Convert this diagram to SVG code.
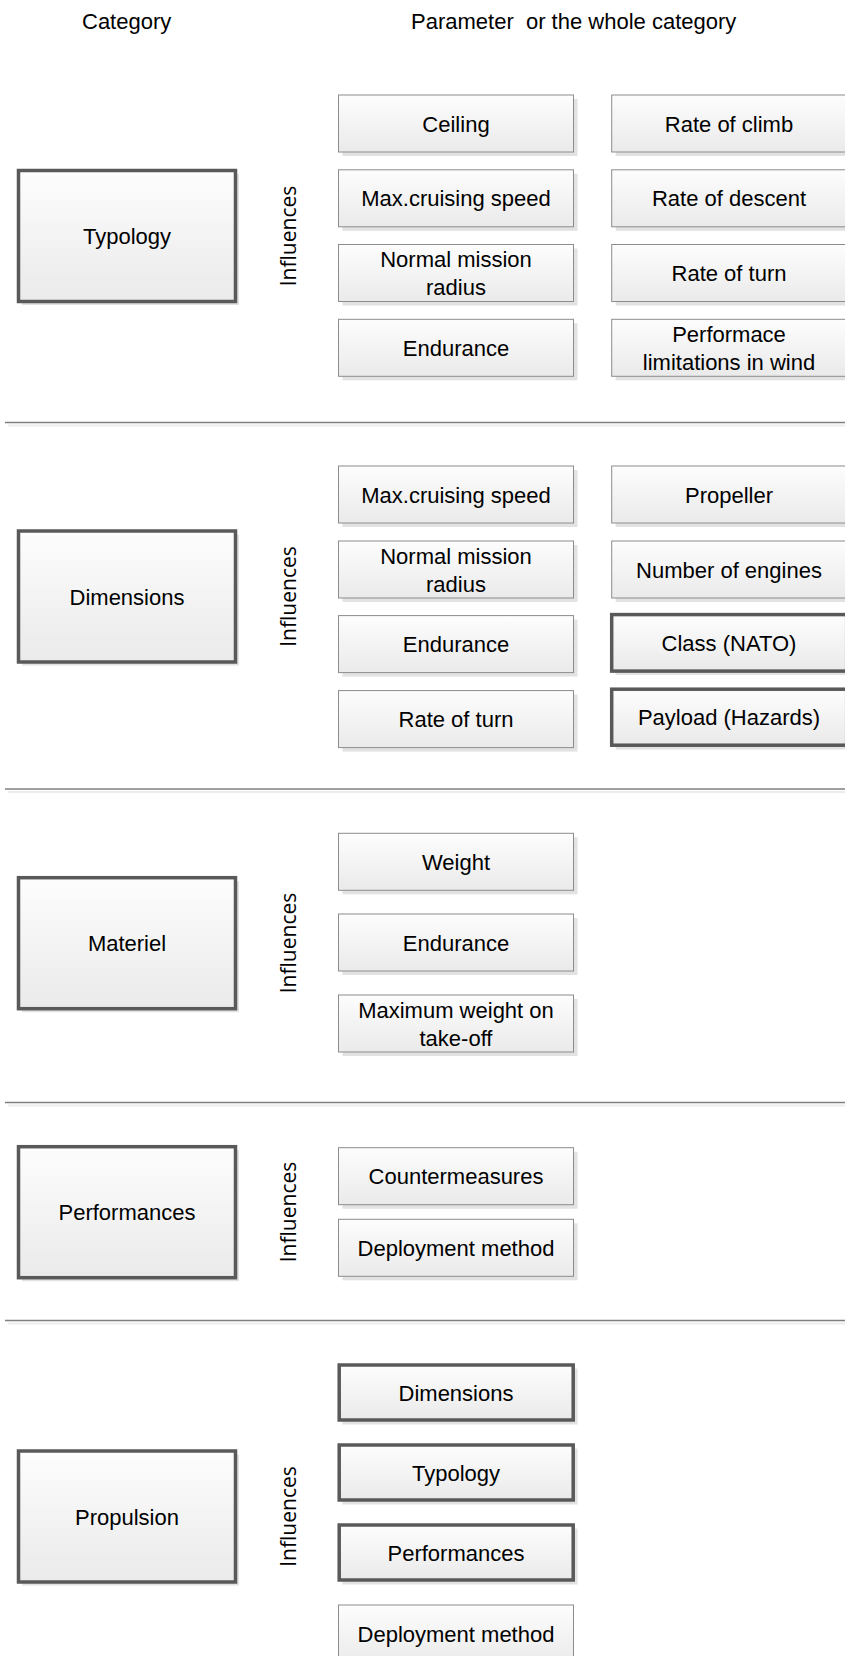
<svg xmlns="http://www.w3.org/2000/svg" width="845" height="1656" viewBox="0 0 845 1656">
<defs>
<linearGradient id="g" x1="0" y1="0" x2="0" y2="1">
<stop offset="0" stop-color="#fdfdfd"/>
<stop offset="1" stop-color="#eaeaea"/>
</linearGradient>
<style>
.box{fill:url(#g);stroke:#8c8c8c;stroke-width:1}
.thick{fill:url(#g);stroke:#595959;stroke-width:3.5}
.sh{fill:#e2e2e2}
.t{font-family:'Liberation Sans',Arial,sans-serif;font-size:22px;text-anchor:middle;fill:#000}
.h{font-family:'Liberation Sans',Arial,sans-serif;font-size:22px;fill:#000;white-space:pre}
.inf{font-family:'Open Sans','Liberation Sans',sans-serif;font-size:21px;text-anchor:middle;fill:#000}
.sep{stroke:#7f7f7f;stroke-width:1.5}
.seps{stroke:#ececec;stroke-width:2}
</style>
</defs>
<rect width="845" height="1656" fill="#fff"/>

<g id="headers">
<text class="h" x="82" y="29">Category</text>
<text class="h" x="411" y="29" xml:space="preserve">Parameter  or the whole category</text>
</g>

<g id="separators">
<line class="seps" x1="8" y1="425.5" x2="845" y2="425.5"/>
<line class="sep" x1="5" y1="422.5" x2="845" y2="422.5"/>
<line class="seps" x1="8" y1="792" x2="845" y2="792"/>
<line class="sep" x1="5" y1="789" x2="845" y2="789"/>
<line class="seps" x1="8" y1="1105.5" x2="845" y2="1105.5"/>
<line class="sep" x1="5" y1="1102.5" x2="845" y2="1102.5"/>
<line class="seps" x1="8" y1="1323.5" x2="845" y2="1323.5"/>
<line class="sep" x1="5" y1="1320.5" x2="845" y2="1320.5"/>
</g>

<g id="connectors">
<text class="inf" transform="translate(295.5,236) rotate(-90)">Influences</text>
<text class="inf" transform="translate(295.5,596.5) rotate(-90)">Influences</text>
<text class="inf" transform="translate(295.5,943) rotate(-90)">Influences</text>
<text class="inf" transform="translate(295.5,1212) rotate(-90)">Influences</text>
<text class="inf" transform="translate(295.5,1516.5) rotate(-90)">Influences</text>
</g>

<!-- Typology section -->
<g id="cat-typology">
<rect class="sh" x="22" y="174" width="217" height="131"/>
<rect class="thick" x="18.5" y="170.5" width="217" height="131"/>
<text class="t" x="127" y="244">Typology</text>
</g>
<g id="t-ceiling">
<rect class="sh" x="342.5" y="99" width="235" height="57"/>
<rect class="box" x="338.5" y="95" width="235" height="57"/>
<text class="t" x="456" y="131.5">Ceiling</text>
</g>
<g id="t-maxspeed">
<rect class="sh" x="342.5" y="173.8" width="235" height="57"/>
<rect class="box" x="338.5" y="169.8" width="235" height="57"/>
<text class="t" x="456" y="206.3">Max.cruising speed</text>
</g>
<g id="t-radius">
<rect class="sh" x="342.5" y="248.5" width="235" height="57"/>
<rect class="box" x="338.5" y="244.5" width="235" height="57"/>
<text class="t" x="456" y="267">Normal mission</text>
<text class="t" x="456" y="295">radius</text>
</g>
<g id="t-endurance">
<rect class="sh" x="342.5" y="323.3" width="235" height="57"/>
<rect class="box" x="338.5" y="319.3" width="235" height="57"/>
<text class="t" x="456" y="355.8">Endurance</text>
</g>
<g id="t-climb">
<rect class="sh" x="615.7" y="99" width="235" height="57"/>
<rect class="box" x="611.7" y="95" width="235" height="57"/>
<text class="t" x="729" y="131.5">Rate of climb</text>
</g>
<g id="t-descent">
<rect class="sh" x="615.7" y="173.8" width="235" height="57"/>
<rect class="box" x="611.7" y="169.8" width="235" height="57"/>
<text class="t" x="729" y="206.3">Rate of descent</text>
</g>
<g id="t-turn">
<rect class="sh" x="615.7" y="248.5" width="235" height="57"/>
<rect class="box" x="611.7" y="244.5" width="235" height="57"/>
<text class="t" x="729" y="281">Rate of turn</text>
</g>
<g id="t-wind">
<rect class="sh" x="615.7" y="323.3" width="235" height="57"/>
<rect class="box" x="611.7" y="319.3" width="235" height="57"/>
<text class="t" x="729" y="341.8">Performace</text>
<text class="t" x="729" y="369.8">limitations in wind</text>
</g>

<!-- Dimensions section -->
<g id="cat-dimensions">
<rect class="sh" x="22" y="534.5" width="217" height="131"/>
<rect class="thick" x="18.5" y="531" width="217" height="131"/>
<text class="t" x="127" y="604.5">Dimensions</text>
</g>
<g id="d-maxspeed">
<rect class="sh" x="342.5" y="470" width="235" height="57"/>
<rect class="box" x="338.5" y="466" width="235" height="57"/>
<text class="t" x="456" y="502.5">Max.cruising speed</text>
</g>
<g id="d-radius">
<rect class="sh" x="342.5" y="545" width="235" height="57"/>
<rect class="box" x="338.5" y="541" width="235" height="57"/>
<text class="t" x="456" y="563.5">Normal mission</text>
<text class="t" x="456" y="591.5">radius</text>
</g>
<g id="d-endurance">
<rect class="sh" x="342.5" y="619.6" width="235" height="57"/>
<rect class="box" x="338.5" y="615.6" width="235" height="57"/>
<text class="t" x="456" y="652.1">Endurance</text>
</g>
<g id="d-turn">
<rect class="sh" x="342.5" y="694.6" width="235" height="57"/>
<rect class="box" x="338.5" y="690.6" width="235" height="57"/>
<text class="t" x="456" y="727.1">Rate of turn</text>
</g>
<g id="d-propeller">
<rect class="sh" x="615.7" y="470" width="235" height="57"/>
<rect class="box" x="611.7" y="466" width="235" height="57"/>
<text class="t" x="729" y="502.5">Propeller</text>
</g>
<g id="d-engines">
<rect class="sh" x="615.7" y="545" width="235" height="57"/>
<rect class="box" x="611.7" y="541" width="235" height="57"/>
<text class="t" x="729" y="577.5">Number of engines</text>
</g>
<g id="d-class">
<rect class="sh" x="615.7" y="619" width="235" height="56"/>
<rect class="thick" x="611.7" y="614.6" width="235" height="56.5"/>
<text class="t" x="729" y="651">Class (NATO)</text>
</g>
<g id="d-payload">
<rect class="sh" x="615.7" y="693.5" width="235" height="56"/>
<rect class="thick" x="611.7" y="689.2" width="235" height="56"/>
<text class="t" x="729" y="725.2">Payload (Hazards)</text>
</g>

<!-- Materiel section -->
<g id="cat-materiel">
<rect class="sh" x="22" y="881.2" width="217" height="131"/>
<rect class="thick" x="18.5" y="877.7" width="217" height="131"/>
<text class="t" x="127" y="951.2">Materiel</text>
</g>
<g id="m-weight">
<rect class="sh" x="342.5" y="837.3" width="235" height="57"/>
<rect class="box" x="338.5" y="833.3" width="235" height="57"/>
<text class="t" x="456" y="869.8">Weight</text>
</g>
<g id="m-endurance">
<rect class="sh" x="342.5" y="918" width="235" height="57"/>
<rect class="box" x="338.5" y="914" width="235" height="57"/>
<text class="t" x="456" y="950.5">Endurance</text>
</g>
<g id="m-mtow">
<rect class="sh" x="342.5" y="999" width="235" height="57"/>
<rect class="box" x="338.5" y="995" width="235" height="57"/>
<text class="t" x="456" y="1017.5">Maximum weight on</text>
<text class="t" x="456" y="1045.5">take-off</text>
</g>

<!-- Performances section -->
<g id="cat-performances">
<rect class="sh" x="22" y="1150.2" width="217" height="131"/>
<rect class="thick" x="18.5" y="1146.7" width="217" height="131"/>
<text class="t" x="127" y="1220.2">Performances</text>
</g>
<g id="p-counter">
<rect class="sh" x="342.5" y="1151.7" width="235" height="57"/>
<rect class="box" x="338.5" y="1147.7" width="235" height="57"/>
<text class="t" x="456" y="1184.2">Countermeasures</text>
</g>
<g id="p-deploy">
<rect class="sh" x="342.5" y="1223.3" width="235" height="57"/>
<rect class="box" x="338.5" y="1219.3" width="235" height="57"/>
<text class="t" x="456" y="1255.8">Deployment method</text>
</g>

<!-- Propulsion section -->
<g id="cat-propulsion">
<rect class="sh" x="22" y="1454.5" width="217" height="131"/>
<rect class="thick" x="18.5" y="1451" width="217" height="131"/>
<text class="t" x="127" y="1524.5">Propulsion</text>
</g>
<g id="pr-dimensions">
<rect class="sh" x="342.5" y="1368.5" width="235" height="56"/>
<rect class="thick" x="339.2" y="1365" width="234" height="55"/>
<text class="t" x="456" y="1400.5">Dimensions</text>
</g>
<g id="pr-typology">
<rect class="sh" x="342.5" y="1448.5" width="235" height="56"/>
<rect class="thick" x="339.2" y="1445" width="234" height="55"/>
<text class="t" x="456" y="1480.5">Typology</text>
</g>
<g id="pr-performances">
<rect class="sh" x="342.5" y="1528.5" width="235" height="56"/>
<rect class="thick" x="339.2" y="1525" width="234" height="55"/>
<text class="t" x="456" y="1560.5">Performances</text>
</g>
<g id="pr-deploy">
<rect class="box" x="338.5" y="1605" width="235" height="60"/>
<text class="t" x="456" y="1641.5">Deployment method</text>
</g>
</svg>
